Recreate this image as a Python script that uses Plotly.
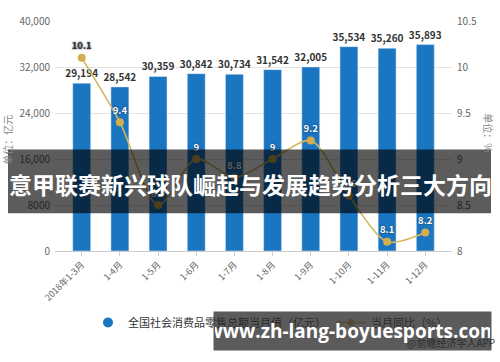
import plotly.graph_objects as go

categories = ["2018年1-3月", "1-4月", "1-5月", "1-6月", "1-7月", "1-8月", "1-9月", "1-10月", "1-11月", "1-12月"]
retail_sales = [29194, 28542, 30359, 30842, 30734, 31542, 32005, 35534, 35260, 35893]
yoy_growth = [10.1, 9.4, 8.5, 9.0, 8.8, 9.0, 9.2, 8.6, 8.1, 8.2]
left_ticks = [0, 8000, 16000, 24000, 32000, 40000]
left_ticktext = ["0", "8000", "16,000", "24,000", "32,000", "40,000"]
right_ticks = [8, 8.5, 9, 9.5, 10, 10.5]
right_ticktext = ["8", "8.5", "9", "9.5", "10", "10.5"]
bar_name = "全国社会消费品零售总额当月值（亿元）"
line_name = "当月同比（%）"

W, H = 500, 362
L, R, T, B = 55, 48, 13, 111
PW, PH = W - L - R, H - T - B


def px(x):
    return (x - L) / PW


def py(y):
    return (H - B - y) / PH


FONT = "Noto Sans CJK SC"
BAR_COLOR = "#1b76c2"
LINE_COLOR = "#d6b75e"
MARK_COLOR = "#d4ae4e"

fig = go.Figure()
fig.add_trace(go.Bar(
    x=categories, y=retail_sales, name=bar_name, showlegend=False,
    marker=dict(color=BAR_COLOR), width=0.47,
    text=[f"{v:,}" for v in retail_sales], textposition="outside", constraintext="none",
    textfont=dict(family=FONT, size=10, color="#333333", weight="bold"),
    cliponaxis=False,
))
fig.add_trace(go.Scatter(
    x=categories, y=yoy_growth, name=line_name, yaxis="y2", showlegend=False,
    mode="lines+markers+text",
    line=dict(color=LINE_COLOR, width=1.6, shape="spline", smoothing=0.8),
    marker=dict(color=MARK_COLOR, size=8),
    text=[f"{v:g}" for v in yoy_growth], textposition="top center",
    textfont=dict(family=FONT, size=9.5, weight="bold",
                  color=["#333333"] + ["#ffffff"] * (len(yoy_growth) - 1),
                  shadow="0px 0px 2px #1a2a3a"),
    cliponaxis=False,
))
# legend entries
fig.add_trace(go.Scatter(x=[None], y=[None], name=bar_name, mode="markers",
                         marker=dict(color=BAR_COLOR, size=10, symbol="circle")))
fig.add_trace(go.Scatter(x=[None], y=[None], name=line_name, mode="lines+markers", yaxis="y2",
                         line=dict(color=LINE_COLOR, width=1.6), marker=dict(color=MARK_COLOR, size=7)))

fig.update_layout(
    width=W, height=H,
    margin=dict(l=L, r=R, t=T, b=B),
    paper_bgcolor="white", plot_bgcolor="white",
    font=dict(family=FONT, color="#555555"),
    xaxis=dict(
        range=[-0.7, 9.7], tickangle=-45, tickfont=dict(size=9, color="#666666"),
        showline=True, linecolor="#cccccc", ticks="outside", ticklen=4, tickcolor="#cccccc",
        showgrid=False,
    ),
    yaxis=dict(
        range=[0, 40000], tickvals=left_ticks, ticktext=left_ticktext,
        tickfont=dict(size=10, color="#666666"), gridcolor="#e3e3e3", zeroline=False,
        ticks="", ticklabelstandoff=4,
    ),
    yaxis2=dict(
        range=[8, 10.5], tickvals=right_ticks, ticktext=right_ticktext, overlaying="y", side="right",
        tickfont=dict(size=10, color="#666666"), showgrid=False, zeroline=False,
        ticks="", ticklabelstandoff=4,
    ),
    showlegend=True,
    legend=dict(
        orientation="h", x=px(88), y=py(325), xanchor="left", yanchor="middle",
        font=dict(size=11, color="#333333"), bgcolor="rgba(0,0,0,0)", itemwidth=30,
    ),
)

annotations = [
    dict(text="单位：亿元", x=px(8), y=py(136), textangle=-90, font=dict(size=10, color="#888888")),
    dict(text="单位：%", x=px(489), y=py(128), textangle=90, font=dict(size=10, color="#888888")),
    dict(text="@前瞻经济学人APP", x=px(497), y=py(346), xanchor="right", font=dict(size=10, color="#444444")),
    dict(text="意甲联赛新兴球队崛起与发展趋势分析三大方向", x=px(250), y=py(182),
         font=dict(size=23, color="white", weight="bold")),
    dict(text="www.zh-lang-boyuesports.com", x=px(352), y=py(334),
         font=dict(family="Open Sans", size=19, color="white", weight="bold"),
         bgcolor="rgba(40,40,40,0.76)", width=275, height=36, borderpad=1),
]
for a in annotations:
    a.setdefault("xref", "paper")
    a.setdefault("yref", "paper")
    a.setdefault("showarrow", False)
    a.setdefault("xanchor", "center")
    a.setdefault("yanchor", "middle")
fig.update_layout(annotations=annotations)

fig.add_shape(type="rect", xref="paper", yref="paper",
              x0=px(8), x1=px(491), y0=py(212), y1=py(146),
              fillcolor="rgba(0,0,0,0.64)", line=dict(width=0), layer="above")

fig.write_html("out.html")
